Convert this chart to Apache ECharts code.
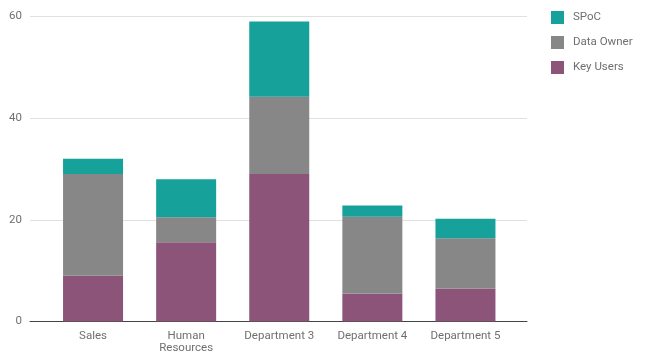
<!DOCTYPE html>
<html>
<head>
<meta charset="utf-8">
<script src="https://cdn.jsdelivr.net/npm/echarts@6/dist/echarts.min.js"></script>
<style>
  html, body { margin: 0; padding: 0; background: #fff; }
  #chart { width: 650px; height: 358px; }
</style>
</head>
<body>
<div id="chart"></div>
<script>
// Team roles per department (stacked counts)
const departments = ['Sales', 'Human\nResources', 'Department 3', 'Department 4', 'Department 5'];
const keyUsers   = [9, 15.6, 29, 5.5, 6.5];
const dataOwner  = [20, 4.9, 15.2, 15.1, 9.9];
const spoc       = [3, 7.5, 14.8, 2.2, 3.8];
const yTicks     = [0, 20, 40, 60];

const colors = { spoc: '#16a19b', owner: '#878787', key: '#8b5478' };
const font = 'Roboto, "Noto Sans", sans-serif';

const chart = echarts.init(document.getElementById('chart'), null, { renderer: 'canvas' });

const yMin = yTicks[0];
const yMax = yTicks[yTicks.length - 1];
const yStep = yTicks[1] - yTicks[0];

chart.setOption({
  animation: false,
  textStyle: { fontFamily: font },
  legend: {
    orient: 'vertical',
    left: 546,
    top: 6,
    itemWidth: 13,
    itemHeight: 13,
    itemGap: 12,
    icon: 'rect',
    data: ['SPoC', 'Data Owner', 'Key Users'],
    textStyle: { fontSize: 11.5, color: '#6f6f6f', fontFamily: font, padding: [0, 0, 0, 4] }
  },
  grid: [
    // gridlines and value axis span the wider area
    { left: 30, right: 123, top: 16.5, bottom: 36.5 },
    // bars sit in the inner band
    { left: 46.5, right: 138, top: 16.5, bottom: 36.5 }
  ],
  xAxis: [
    {
      gridIndex: 0, type: 'category', data: departments,
      axisLine: { show: true, lineStyle: { color: '#444', width: 1 } },
      axisTick: { show: false }, axisLabel: { show: false }, splitLine: { show: false }
    },
    {
      gridIndex: 1, type: 'category', data: departments,
      axisLine: { show: false }, axisTick: { show: false },
      axisLabel: { color: '#6f6f6f', fontSize: 11.5, lineHeight: 12.5, margin: 8, interval: 0, fontFamily: font }
    }
  ],
  yAxis: [
    {
      gridIndex: 0, type: 'value', min: yMin, max: yMax, interval: yStep,
      axisLine: { show: false }, axisTick: { show: false },
      axisLabel: { color: '#6f6f6f', fontSize: 11.5, margin: 8, fontFamily: font },
      splitLine: { lineStyle: { color: '#e0e0e0', width: 1 } }
    },
    {
      gridIndex: 1, type: 'value', min: yMin, max: yMax, interval: yStep,
      show: false, splitLine: { show: false }
    }
  ],
  series: [
    {
      name: 'Key Users', type: 'bar', stack: 'roles', xAxisIndex: 1, yAxisIndex: 1,
      barWidth: 60, data: keyUsers, itemStyle: { color: colors.key }
    },
    {
      name: 'Data Owner', type: 'bar', stack: 'roles', xAxisIndex: 1, yAxisIndex: 1,
      barWidth: 60, data: dataOwner, itemStyle: { color: colors.owner }
    },
    {
      name: 'SPoC', type: 'bar', stack: 'roles', xAxisIndex: 1, yAxisIndex: 1,
      barWidth: 60, data: spoc, itemStyle: { color: colors.spoc }
    }
  ]
});
</script>
</body>
</html>
